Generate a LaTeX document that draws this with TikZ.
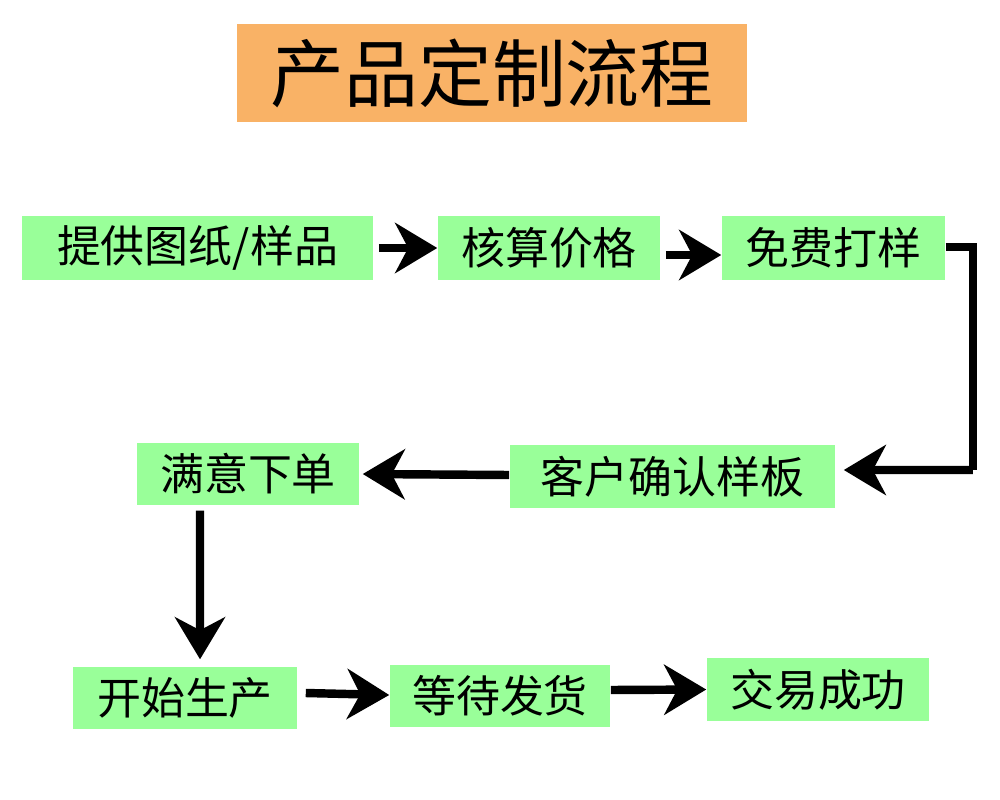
\documentclass[tikz,border=0pt]{standalone}
\usepackage{fontspec}
\newfontfamily\cjk{Noto Sans CJK SC}
\usetikzlibrary{arrows.meta}
\definecolor{boxg}{HTML}{99FF99}
\definecolor{titleo}{HTML}{F9B266}
\begin{document}
\begin{tikzpicture}[x=0.01cm,y=-0.01cm,
  bx/.style={fill=boxg,draw=none,inner sep=0pt,font=\cjk\fontsize{12.5}{14}\selectfont},
  ar/.style={line width=2.4pt,-{Stealth[length=0.42cm,width=0.5cm,inset=0.13cm]}}]
\useasboundingbox (0,0) rectangle (1000,800);
\fill[white] (0,0) rectangle (1000,800);
\node[fill=titleo,minimum width=5.1cm,minimum height=0.98cm,inner sep=0pt,font=\cjk\fontsize{21}{24}\selectfont] (t) at (492,73) {产品定制流程};
\node[bx,minimum width=3.51cm,minimum height=0.64cm] (a) at (197.5,248) {提供图纸/样品};
\node[bx,minimum width=2.22cm,minimum height=0.64cm] (b) at (549,248) {核算价格};
\node[bx,minimum width=2.23cm,minimum height=0.64cm] (c) at (833.5,248) {免费打样};
\node[bx,minimum width=3.25cm,minimum height=0.63cm] (d) at (672.5,476.5) {客户确认样板};
\node[bx,minimum width=2.22cm,minimum height=0.62cm] (e) at (248,474) {满意下单};
\node[bx,minimum width=2.24cm,minimum height=0.62cm] (f) at (185,698) {开始生产};
\node[bx,minimum width=2.20cm,minimum height=0.62cm] (g) at (500,696) {等待发货};
\node[bx,minimum width=2.22cm,minimum height=0.63cm] (h) at (818,689.5) {交易成功};
\draw[ar] ([xshift=0.05cm]a.east) -- (b.west);
\draw[ar] ([xshift=0.05cm,yshift=-0.07cm]b.east) -- ([yshift=-0.07cm]c.west);
\draw[line width=2.4pt] ([yshift=0.01cm]c.east) -- ++(27,0) coordinate (c1) -- (c1 |- 0,470) coordinate (c2);
\draw[ar] (c2) -- ([xshift=0.08cm,yshift=0.065cm]d.east);
\draw[ar] ([yshift=0.015cm]d.west) -- ([xshift=0.03cm]e.east);
\draw[ar] ([xshift=-0.48cm,yshift=-0.05cm]e.south) -- ([xshift=0.15cm,yshift=0.07cm]f.north);
\draw[ar] ([xshift=0.08cm,yshift=0.05cm]f.east) -- ([yshift=0.01cm]g.west);
\draw[ar] ([yshift=0.06cm]g.east) -- ([yshift=0.005cm]h.west |- 0,690);
\end{tikzpicture}
\end{document}
